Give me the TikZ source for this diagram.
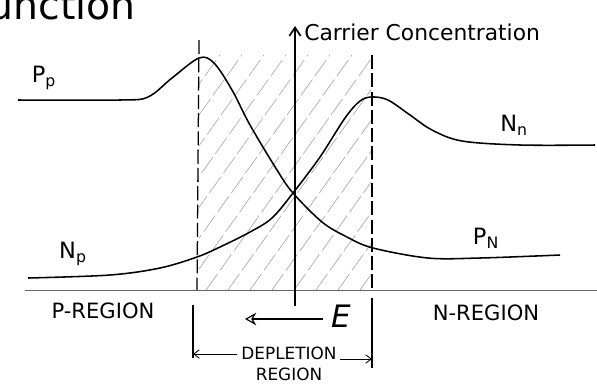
\documentclass[tikz,border=0pt]{standalone}
\usepackage{fontspec}
\setsansfont{DejaVu Sans}
\usepackage{tikz}
\usetikzlibrary{arrows.meta, positioning, calc}

\begin{document}
\begin{tikzpicture}[
        x=0.025cm, y=-0.025cm,
        curve/.style={line width=1.1pt},
        border/.style={dash pattern=on 10pt off 3pt, line width=0.9pt},
        hatch/.style={gray!75, line width=0.4pt, dash pattern=on 14pt off 3pt},
        lbl/.style={font=\sffamily\fontsize{15}{17}\selectfont, inner sep=0pt},
        sub/.style={font=\sffamily\fontsize{16}{18}\selectfont, inner sep=0pt},
        axis/.style={-{Straight Barb[length=6pt,width=8pt]}, line width=1.2pt},
        field/.style={-{Stealth[open,length=8pt,width=9pt]}, line width=0.8pt},
        span/.style={-{Straight Barb[length=4pt,width=6pt]}, line width=0.6pt}
    ]
        \useasboundingbox (0,0) rectangle (597,391);

        % title, cut off by the page edge
        \node[anchor=base east, font=\sffamily\fontsize{28}{30}\selectfont, inner sep=0pt] (title) at (136,19) {Junction};

        % depletion region edges
        \coordinate (jl top) at (199,40);
        \coordinate (jl bot) at (197,290);
        \coordinate (jr top) at (372,55);
        \coordinate (jr bot) at (372,290);

        % hatching between the edges
        \begin{scope}
            \clip (199,55) rectangle (371,289);
            \foreach \i in {0,...,16}
                \draw[hatch] ({30+22*\i},290) -- ({200+22*\i},52);
        \end{scope}

        \draw[border] (jl top) -- (jl bot);
        \draw[border] (jr top) -- (jr bot);

        % base line
        \coordinate (base l) at (25,290);
        \coordinate (base r) at (597,290);
        \draw[gray!80!black, line width=0.7pt] (base l) -- (base r);

        % carrier concentration axis
        \coordinate (ax bot) at (295,306);
        \coordinate (ax top) at (295,26);
        \draw[axis] (ax bot) -- (ax top);
        \node[lbl, anchor=west, font=\sffamily\fontsize{15.5}{18}\selectfont] (ylabel) at (304,32) {Carrier Concentration};

        % P_p -> P_N (holes)
        \draw[curve] plot[smooth, tension=0.55] coordinates {(18,100) (120,100) (148,97) (172,78) (199,58) (214,63) (232,90) (250,125) (277,170) (293,193) (322,222) (347,237) (373,248) (428,258) (480,258) (560,255)};
        % N_p -> N_n (electrons)
        \draw[curve] plot[smooth, tension=0.55] coordinates {(28,278) (110,275) (160,268) (197,257) (220,247) (250,232) (272,218) (293,193) (320,157) (345,118) (360,101) (372,97) (388,100) (410,115) (432,130) (462,141) (520,145) (595,145)};

        \node[sub] (pp) at (44,78) {P\textsubscript{p}};
        \node[sub] (nn) at (514,125) {N\textsubscript{n}};
        \node[sub] (np) at (73,254) {N\textsubscript{p}};
        \node[sub] (pn) at (486,238) {P\textsubscript{N}};

        \node[lbl] (preg) at (103,311) {P-REGION};
        \node[lbl] (nreg) at (486,313) {N-REGION};

        % electric field
        \coordinate (e start) at (323,319);
        \coordinate (e end) at (245,319);
        \draw[field] (e start) -- (e end);
        \node[lbl, font=\sffamily\itshape\fontsize{22}{24}\selectfont] (efield) at (341,316) {E};

        % depletion width
        \coordinate (dl top) at (193,305);
        \coordinate (dl bot) at (193,358);
        \coordinate (dr top) at (372,298);
        \coordinate (dr bot) at (372,368);
        \draw[line width=0.9pt] (dl top) -- (dl bot);
        \draw[line width=0.9pt] (dr top) -- (dr bot);
        \node[lbl, font=\sffamily\fontsize{12}{14}\selectfont] (depl) at (289,353) {DEPLETION};
        \node[lbl, font=\sffamily\fontsize{12}{14}\selectfont, below=6pt of depl] (region) {REGION};
        \draw[span] (depl.west) ++(-4,1) coordinate (sl) -- (sl -| dl top);
        \draw[span] (depl.east) ++(3,6) coordinate (sr) -- (sr -| dr top);
    \end{tikzpicture}
\end{document}
